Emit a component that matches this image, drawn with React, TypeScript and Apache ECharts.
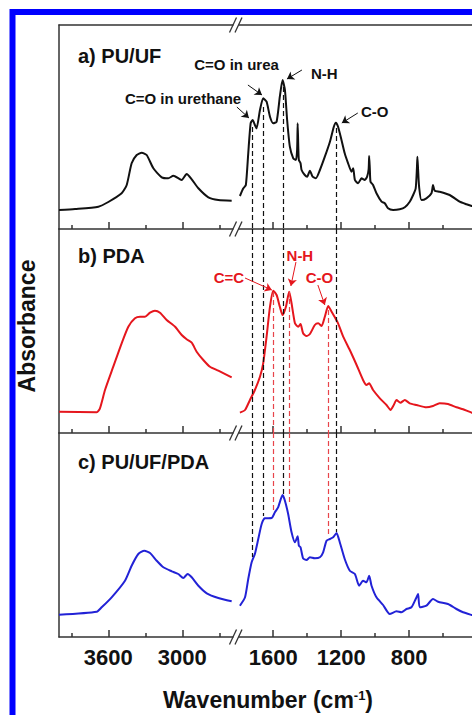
import React, { useEffect, useRef } from 'react';
import * as echarts from 'echarts';

// ---------- data: [wavenumber (cm-1), absorbance (a.u.)] ----------
const puufHigh: number[][] = [
  [4000, 19], [3870, 20], [3681, 22.3], [3600, 27], [3492, 35.7], [3451, 44], [3411, 65.7],
  [3370, 74], [3329, 76.3], [3289, 74], [3235, 60.7], [3167, 51.7], [3114, 50.7], [3073, 53.3],
  [3005, 49], [2965, 55], [2924, 49.7], [2870, 40.7], [2789, 31.7], [2708, 29], [2600, 28.3],
];
const puufLow: number[][] = [
  [1796, 33], [1776, 40.7], [1761, 44], [1747, 75.7], [1733, 105.7], [1721, 109], [1708, 104],
  [1698, 100.7], [1678, 119], [1659, 130.7], [1639, 127.3], [1619, 112.3], [1600, 105.7],
  [1580, 107.3], [1561, 132.3], [1545, 149], [1531, 139], [1518, 109], [1502, 82.3], [1482, 70.7],
  [1466, 69], [1459, 80], [1456, 105.7], [1452, 80], [1449, 69], [1439, 65.7], [1433, 59],
  [1414, 54], [1400, 52.3], [1384, 58.3], [1368, 52.3], [1349, 50.7], [1325, 59], [1296, 72.3],
  [1266, 87.3], [1243, 102.3], [1231, 106.3], [1218, 102.3], [1198, 89], [1179, 75.7],
  [1159, 65.7], [1139, 57.3], [1129, 60.7], [1119, 49], [1100, 45.7], [1080, 50.7], [1061, 49],
  [1047, 52.3], [1038, 60], [1035, 73], [1031, 60], [1027, 47.3], [1012, 44], [992, 35.7],
  [962, 27.3], [943, 25.7], [924, 20.7], [894, 19], [855, 19.7], [825, 21.7], [796, 27.3],
  [776, 34], [761, 40.7], [754, 60], [751, 72.3], [747, 60], [741, 42.3], [727, 29], [698, 30.7],
  [668, 35.7], [659, 44], [649, 38.3], [620, 37.3], [561, 34], [502, 27.3], [462, 24.7],
  [431, 23], [400, 22],
];
const pdaHigh: number[][] = [
  [4000, 21.3], [3694, 20.7], [3668, 24.7], [3627, 43], [3560, 66.3], [3492, 89.7], [3438, 106.3],
  [3384, 114.7], [3343, 116.3], [3303, 116.3], [3262, 120.3], [3222, 122.3], [3181, 120.3],
  [3127, 113], [3059, 106.3], [3005, 98], [2965, 93.7], [2924, 90.3], [2884, 81.3], [2830, 73],
  [2776, 66.3], [2708, 62.3], [2600, 55.7],
];
const pdaLow: number[][] = [
  [1796, 20.3], [1766, 23], [1737, 33], [1708, 43], [1678, 56.3], [1659, 69.7], [1639, 96.3],
  [1619, 126.3], [1600, 142.3], [1580, 138], [1561, 126.3], [1545, 118], [1525, 126.3],
  [1506, 141.3], [1492, 129.7], [1472, 109.7], [1453, 106.3], [1439, 109], [1424, 99.7],
  [1404, 97], [1384, 99], [1355, 108], [1335, 109.7], [1315, 107], [1296, 116.3], [1276, 127],
  [1256, 121.3], [1237, 115.7], [1218, 109.7], [1188, 96.3], [1149, 83], [1109, 68], [1071, 53],
  [1051, 48], [1035, 49.7], [1012, 43], [972, 34.7], [933, 28], [909, 23], [890, 28], [874, 33],
  [851, 30.3], [825, 33], [796, 29.7], [756, 28], [698, 25.7], [659, 27], [620, 29.7], [571, 29],
  [521, 25.7], [482, 23.7], [431, 20.3], [400, 19.5],
];
const pduHigh: number[][] = [
  [4000, 22.3], [3694, 25.3], [3654, 29.7], [3573, 39.7], [3465, 56.3], [3411, 71.3], [3357, 83],
  [3308, 86.3], [3262, 84], [3208, 76.3], [3154, 69.7], [3086, 65.7], [3033, 63], [2992, 59],
  [2957, 63], [2924, 59.7], [2870, 51.3], [2802, 43.7], [2708, 39], [2600, 35.7],
];
const pduLow: number[][] = [
  [1796, 31.3], [1766, 39.7], [1747, 58], [1727, 74.7], [1708, 83], [1688, 98], [1668, 113],
  [1649, 118.7], [1609, 119], [1590, 124.7], [1571, 129.7], [1545, 142], [1531, 136.3],
  [1512, 123], [1492, 104.7], [1472, 94.7], [1456, 100.7], [1449, 91.3], [1439, 89.7],
  [1424, 78.7], [1404, 77], [1384, 79.7], [1355, 78.7], [1325, 79.7], [1306, 84.7], [1286, 96.3],
  [1266, 98], [1247, 99.7], [1227, 104], [1208, 94.7], [1179, 78], [1149, 66.3], [1119, 63],
  [1094, 51.3], [1071, 56.3], [1051, 54.7], [1035, 61.3], [1021, 51.3], [992, 39.7], [953, 32],
  [914, 23], [874, 25.7], [845, 24.7], [815, 28], [786, 29.7], [761, 38], [747, 43], [737, 29.7],
  [698, 31.3], [659, 38], [629, 35.3], [571, 33], [521, 28], [482, 24.7], [431, 22], [400, 20.5],
];

const highRange = [2573, 4000];
const lowRange = [400, 1825];
const highMajorTicks = [3600, 3000];
const highMinorTicks = [3900, 3300, 2700];
const lowMajorTicks = [1600, 1200, 800, 400];
const lowMinorTicks = [1400, 1000, 600];
const highTickLabels = [3600, 3000];
const lowTickLabels = [1600, 1200, 800];
const absMax = 204;

const panelLabels = ['a) PU/UF', 'b) PDA', 'c) PU/UF/PDA'];
const curveColors = ['#111111', '#e5161d', '#2222d6'];
const highSeries = [puufHigh, pdaHigh, pduHigh];
const lowSeries = [puufLow, pdaLow, pduLow];

// dashed peak guides
const blackGuideWn = [1725, 1657, 1543, 1231];
const blackGuideTopA = [102, 122, 142, 101];
const blackGuideEndC = [80, 121, 143, 105];
const redGuideWn = [1598, 1508, 1276];
const redGuideTopB = [141, 142, 123];
const redGuideEndC = [127, 132, 100];

// peak annotations: text, text anchor, arrow tail, arrow head (data coords)
const annotationsA = [
  { text: 'C=O in urethane', at: [2131, 131], from: [1814, 122], to: [1743, 111] },
  { text: 'C=O in urea', at: [1816, 165], from: [1749, 144], to: [1666, 134] },
  { text: 'N-H', at: [1299, 156], from: [1431, 159], to: [1519, 150] },
  { text: 'C-O', at: [1002, 118], from: [1102, 116], to: [1196, 106] },
];
const annotationsB = [
  { text: 'C=C', at: [1861, 156], from: [1766, 155], to: [1608, 143] },
  { text: 'N-H', at: [1443, 178], from: [1466, 171], to: [1496, 147] },
  { text: 'C-O', at: [1328, 156], from: [1337, 148], to: [1296, 128] },
];

// ---------- layout ----------
const W = 472;
const H = 715;
const FONT = '"Liberation Sans", Arial, Helvetica, sans-serif';
const PLOT_LEFT = 59;
const BREAK_X = 235;
const PLOT_RIGHT = 477;
const PANEL_TOP = [25, 229, 433];
const PANEL_H = 204;
const AXIS_COLOR = '#333333';
const RED = '#e5161d';
const DASH_BLACK = { color: '#111111', width: 1.2, type: [5, 3] as any };
const DASH_RED = { color: '#e8444a', width: 1.2, type: [5, 3] as any };

function guide(wn: number, top: number, bottom: number, style: any) {
  return [
    { coord: [wn, top], symbol: 'none', lineStyle: style },
    { coord: [wn, bottom], symbol: 'none', lineStyle: style },
  ];
}
function arrow(a: { from: number[]; to: number[] }, color: string) {
  const st = { color, width: 1, type: 'solid' };
  return [
    { coord: a.from, symbol: 'none', lineStyle: st },
    { coord: a.to, symbol: 'arrow', symbolSize: 7, lineStyle: st },
  ];
}

function buildOption() {
  const grid: any[] = [];
  const xAxis: any[] = [];
  const yAxis: any[] = [];
  const series: any[] = [];
  const axisLineStyle = { color: AXIS_COLOR, width: 1.5 };

  for (let p = 0; p < 3; p++) {
    for (let s = 0; s < 2; s++) {
      const g = p * 2 + s;
      const range = s ? lowRange : highRange;
      grid.push({
        left: s ? BREAK_X : PLOT_LEFT,
        top: PANEL_TOP[p],
        width: s ? PLOT_RIGHT - BREAK_X : BREAK_X - PLOT_LEFT,
        height: PANEL_H,
        containLabel: false,
        outerBoundsMode: 'none',
      });
      xAxis.push({
        type: 'value', gridIndex: g, position: 'bottom', inverse: true,
        min: range[0], max: range[1],
        axisLine: { show: true, onZero: false, lineStyle: axisLineStyle },
        axisTick: { show: true, inside: true, length: 7, customValues: s ? lowMajorTicks : highMajorTicks, lineStyle: axisLineStyle },
        axisLabel: {
          show: p === 2, customValues: s ? lowTickLabels : highTickLabels, margin: 9,
          formatter: (v: number) => String(v),
          color: '#111', fontSize: 22, fontWeight: 'bold', fontFamily: FONT,
        },
        splitLine: { show: false },
      });
      xAxis.push({
        type: 'value', gridIndex: g, position: 'bottom', inverse: true,
        min: range[0], max: range[1],
        axisLine: { show: false },
        axisTick: { show: true, inside: true, length: 4, customValues: s ? lowMinorTicks : highMinorTicks, lineStyle: axisLineStyle },
        axisLabel: { show: false },
        splitLine: { show: false },
      });
      yAxis.push({
        type: 'value', gridIndex: g, min: 0, max: absMax, show: s === 0,
        axisLine: { show: true, onZero: false, lineStyle: axisLineStyle },
        axisTick: { show: false }, axisLabel: { show: false }, splitLine: { show: false },
      });

      let markData: any[] = [];
      if (s === 1) {
        if (p === 0) {
          blackGuideWn.forEach((wn, i) => markData.push(guide(wn, blackGuideTopA[i], 0, DASH_BLACK)));
          annotationsA.forEach((a) => markData.push(arrow(a, '#111')));
        } else if (p === 1) {
          blackGuideWn.forEach((wn) => markData.push(guide(wn, absMax, 0, DASH_BLACK)));
          redGuideWn.forEach((wn, i) => markData.push(guide(wn, redGuideTopB[i], 0, DASH_RED)));
          annotationsB.forEach((a) => markData.push(arrow(a, RED)));
        } else {
          blackGuideWn.forEach((wn, i) => markData.push(guide(wn, absMax, blackGuideEndC[i], DASH_BLACK)));
          redGuideWn.forEach((wn, i) => markData.push(guide(wn, absMax, redGuideEndC[i], DASH_RED)));
        }
      }

      series.push({
        type: 'line', xAxisIndex: 2 * g, yAxisIndex: g,
        data: s ? lowSeries[p] : highSeries[p],
        showSymbol: false, symbol: 'none', smooth: 0.2, silent: true,
        lineStyle: { color: curveColors[p], width: 2 },
        markLine: markData.length ? {
          silent: true, animation: false, symbol: ['none', 'none'],
          label: { show: false }, emphasis: { disabled: true },
          data: markData,
        } : undefined,
        z: 3,
      });
    }
  }
  // top frame line of panel a
  for (let s = 0; s < 2; s++) {
    const range = s ? lowRange : highRange;
    xAxis.push({
      type: 'value', gridIndex: s, position: 'top', inverse: true, min: range[0], max: range[1],
      axisLine: { show: true, onZero: false, lineStyle: axisLineStyle },
      axisTick: { show: false }, axisLabel: { show: false }, splitLine: { show: false },
    });
  }

  return { animation: false, backgroundColor: '#ffffff', grid, xAxis, yAxis, series };
}

function buildGraphic(chart: any) {
  const els: any[] = [];
  // axis break marks
  const lineYs = [PANEL_TOP[0], PANEL_TOP[1], PANEL_TOP[2], PANEL_TOP[2] + PANEL_H];
  lineYs.forEach((y) => {
    els.push({ type: 'rect', shape: { x: 233.5, y: y - 2, width: 5, height: 4 }, style: { fill: '#fff' }, z: 50 });
    els.push({ type: 'line', shape: { x1: 229.5, y1: y + 7.5, x2: 236.5, y2: y - 7.5 }, style: { stroke: AXIS_COLOR, lineWidth: 1.3 }, z: 51 });
    els.push({ type: 'line', shape: { x1: 235, y1: y + 7.5, x2: 242, y2: y - 7.5 }, style: { stroke: AXIS_COLOR, lineWidth: 1.3 }, z: 51 });
  });
  // panel labels
  const labelYs = [56, 256, 462];
  panelLabels.forEach((t, i) => {
    els.push({
      type: 'text', x: 78, y: labelYs[i],
      style: { text: t, fill: '#111', fontSize: 20, fontWeight: 'bold', fontFamily: FONT, align: 'left', verticalAlign: 'middle' },
      z: 60,
    });
  });
  // peak annotation texts
  const addAnn = (list: any[], seriesIndex: number, color: string) => {
    list.forEach((a) => {
      const pt = chart.convertToPixel({ seriesIndex }, a.at);
      els.push({
        type: 'text', x: pt[0], y: pt[1],
        style: { text: a.text, fill: color, fontSize: 15, fontWeight: 'bold', fontFamily: FONT, align: 'center', verticalAlign: 'middle' },
        z: 60,
      });
    });
  };
  addAnn(annotationsA, 1, '#111');
  addAnn(annotationsB, 3, RED);
  // axis titles
  els.push({
    type: 'text', x: 27, y: 326, rotation: Math.PI / 2,
    style: { text: 'Absorbance', fill: '#111', fontSize: 23, fontWeight: 'bold', fontFamily: FONT, align: 'center', verticalAlign: 'middle' },
    z: 60,
  });
  els.push({
    type: 'text', x: 268, y: 700,
    style: {
      text: 'Wavenumber (cm{sup|-1})', fill: '#111', fontSize: 23, fontWeight: 'bold', fontFamily: FONT,
      align: 'center', verticalAlign: 'middle',
      rich: { sup: { fontSize: 13, fontWeight: 'bold', fontFamily: FONT, fill: '#111', verticalAlign: 'top' } },
    },
    z: 60,
  });
  // blue frame
  els.push({
    type: 'rect', shape: { x: 12.5, y: 12, width: 540, height: 780 },
    style: { fill: 'none', stroke: '#0000ff', lineWidth: 6 }, z: 100,
  });
  return els;
}

export default function App() {
  const ref = useRef<HTMLDivElement>(null);
  useEffect(() => {
    const chart = echarts.init(ref.current!, null, { renderer: 'svg', width: W, height: H });
    chart.setOption(buildOption());
    chart.setOption({ graphic: buildGraphic(chart) });
    return () => chart.dispose();
  }, []);
  return (
    <div
      ref={ref}
      style={{ position: 'fixed', left: 0, top: 0, width: W, height: H, background: '#fff', overflow: 'hidden' }}
    />
  );
}
